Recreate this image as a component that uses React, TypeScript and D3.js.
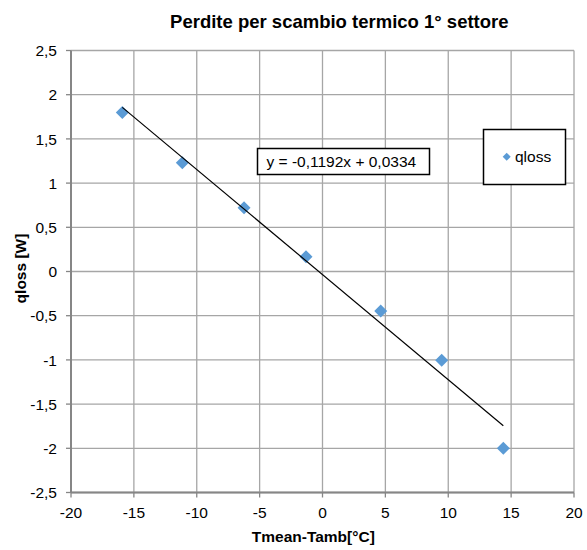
import React from "react";
import * as d3 from "d3";

const xData = [-15.92, -11.15, -6.24, -1.31, 4.63, 9.48, 14.38];
const yData = [1.8, 1.23, 0.72, 0.167, -0.447, -1.005, -2.0];
const trendX = [-15.92, 14.38];
const trendY = [1.857, -1.744];
const xTicks = [-20, -15, -10, -5, 0, 5, 10, 15, 20];
const yTicks = [-2.5, -2, -1.5, -1, -0.5, 0, 0.5, 1, 1.5, 2, 2.5];
const title = "Perdite per scambio termico 1° settore";
const xLabel = "Tmean-Tamb[°C]";
const yLabel = "qloss [W]";
const equation = "y = -0,1192x + 0,0334";
const seriesName = "qloss";

const W = 587, H = 550;
const L = 71, R = 574, T = 50.5, B = 492.5;
const FONT = "Liberation Sans, Arial, sans-serif";
const BLUE = "#5b9bd5";
const FS = 15.5;

const fmt = (v: number) => String(v).replace(".", ",");

export default function App() {
  const x = d3.scaleLinear().domain([-20, 20]).range([L, R]);
  const y = d3.scaleLinear().domain([-2.5, 2.5]).range([B, T]);
  const line = d3.line<number>().x((d) => x(trendX[d])).y((d) => y(trendY[d]));
  const diamond = (cx: number, cy: number, r: number) =>
    `M${cx},${cy - r}L${cx + r},${cy}L${cx},${cy + r}L${cx - r},${cy}Z`;
  return (
    <svg width={W} height={H} style={{ position: "absolute", left: 0, top: 0, background: "#fff" }} fontFamily={FONT}>
      <rect x={0} y={0} width={W} height={H} fill="#fff" />
      <text x={339.3} y={28} textAnchor="middle" fontSize={18.5} fontWeight="bold">{title}</text>
      {xTicks.map((t) => (
        <line key={"gx" + t} x1={x(t)} x2={x(t)} y1={T} y2={B} stroke="#a6a6a6" strokeWidth={1.3} />
      ))}
      {yTicks.map((t) => (
        <line key={"gy" + t} x1={L} x2={R} y1={y(t)} y2={y(t)} stroke="#a6a6a6" strokeWidth={1.3} />
      ))}
      <line x1={L} x2={L} y1={T} y2={B} stroke="#868686" strokeWidth={2} />
      <line x1={L} x2={R} y1={B} y2={B} stroke="#868686" strokeWidth={2} />
      {yTicks.map((t) => (
        <g key={"ty" + t}>
          <line x1={L - 5} x2={L} y1={y(t)} y2={y(t)} stroke="#868686" strokeWidth={1.3} />
          <text x={57} y={y(t) + 5.6} textAnchor="end" fontSize={FS}>{fmt(t)}</text>
        </g>
      ))}
      {xTicks.map((t) => (
        <g key={"tx" + t}>
          <line x1={x(t)} x2={x(t)} y1={B} y2={B + 5} stroke="#868686" strokeWidth={1.3} />
          <text x={x(t)} y={517.5} textAnchor="middle" fontSize={FS}>{fmt(t)}</text>
        </g>
      ))}
      <text x={313.3} y={541.5} textAnchor="middle" fontSize={15.5} fontWeight="bold">{xLabel}</text>
      <text transform={`translate(26,268.5) rotate(-90)`} textAnchor="middle" fontSize={15.5} fontWeight="bold">{yLabel}</text>
      {xData.map((v, i) => (
        <path key={"p" + i} d={diamond(x(v), y(yData[i]), 6.5)} fill={BLUE} />
      ))}
      <path d={line([0, 1]) || ""} stroke="#000" strokeWidth={1.2} fill="none" />
      <rect x={257.5} y={148.5} width={172} height={26} fill="#fff" stroke="#000" strokeWidth={1.5} />
      <text x={266.5} y={167} fontSize={FS}>{equation}</text>
      <rect x={483.5} y={129.5} width={82} height={55} fill="#fff" stroke="#000" strokeWidth={1.5} />
      <path d={diamond(506.7, 156.7, 4)} fill={BLUE} />
      <text x={515} y={161.7} fontSize={FS}>{seriesName}</text>
    </svg>
  );
}
